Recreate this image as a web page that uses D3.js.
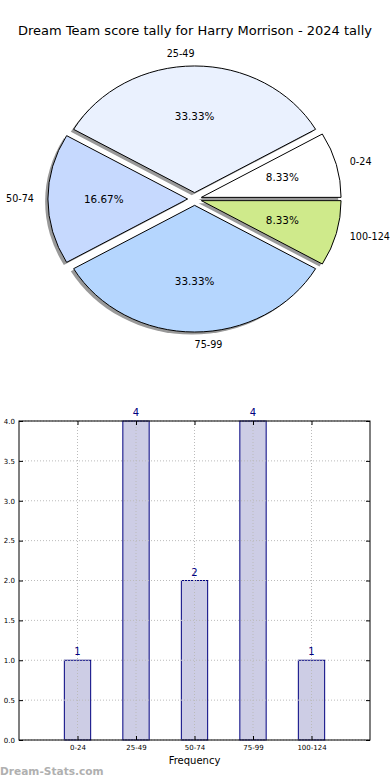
<!DOCTYPE html>
<html><head><meta charset="utf-8">
<script src="https://cdn.jsdelivr.net/npm/d3@7"></script>
<style>
body{margin:0;background:#fff;}
svg{display:block;font-family:"DejaVu Sans",sans-serif;}
</style></head>
<body>
<svg id="c" width="390" height="780"></svg>
<script>
const title = "Dream Team score tally for Harry Morrison - 2024 tally";
const categories = ["0-24","25-49","50-74","75-99","100-124"];
const counts = [1,4,2,4,1];
const pieColors = ["#ffffff","#eaf1fe","#c6d9fe","#b5d6fe","#cfea8b"];
const yTicks = [0,0.5,1,1.5,2,2.5,3,3.5,4];
const xLabel = "Frequency";
const watermark = "Dream-Stats.com";

const svg = d3.select("#c");
svg.append("text").attr("x",195).attr("y",35).attr("text-anchor","middle")
  .attr("font-size",13).attr("fill","#000").text(title);

// ---- Pie ----
const cx = 194.6, cy = 199, rx = 139.7, ry = 126.7, expl = 0.05;
const pie = d3.pie().sort(null).value(d=>d).startAngle(Math.PI/2).endAngle(Math.PI/2 - 2*Math.PI);
const arcs = pie(counts);
const arc = d3.arc().innerRadius(0).outerRadius(1);
const total = d3.sum(counts);
const gp = svg.append("g");
function mid(a){ // matplotlib-style angle (ccw from +x)
  const m = (a.startAngle + a.endAngle)/2; // d3 angle
  return Math.PI/2 - m;
}
// shadows
arcs.forEach((a,i)=>{
  const t = mid(a);
  const ox = cx + expl*rx*Math.cos(t) - 0.02*rx;
  const oy = cy - expl*ry*Math.sin(t) + 0.02*ry;
  gp.append("path").attr("d",arc(a))
    .attr("transform",`translate(${ox},${oy}) scale(${rx},${ry})`)
    .attr("fill","#000").attr("fill-opacity",0.4).attr("stroke","none");
});
arcs.forEach((a,i)=>{
  const t = mid(a);
  const ox = cx + expl*rx*Math.cos(t);
  const oy = cy - expl*ry*Math.sin(t);
  gp.append("path").attr("d",arc(a))
    .attr("transform",`translate(${ox},${oy}) scale(${rx},${ry})`)
    .attr("fill",pieColors[i]).attr("stroke","#000").attr("stroke-width",1)
    .attr("vector-effect","non-scaling-stroke");
  const c = Math.cos(t), s = Math.sin(t);
  const lx = ox + 1.1*rx*c, ly = oy - 1.1*ry*s;
  let anchor = c > 1e-6 ? "start" : (c < -1e-6 ? "end" : (s > 0 ? "end" : "start"));
  gp.append("text").attr("x",lx).attr("y",ly).attr("dy","0.35em")
    .attr("text-anchor",anchor).attr("font-size",9.6).attr("fill","#000").text(categories[i]);
  gp.append("text").attr("x",ox + 0.6*rx*c).attr("y",oy - 0.6*ry*s).attr("dy","0.35em")
    .attr("text-anchor","middle").attr("font-size",10.4).attr("fill","#000")
    .text((counts[i]/total*100).toFixed(2)+"%");
});

// ---- Bar chart ----
const L = 19, R = 370, T = 421, B = 740;
const x = d3.scaleLinear().domain([0,6]).range([L,R]);
const y = d3.scaleLinear().domain([0,4]).range([B,T]);
const gb = svg.append("g");
const bw = 0.45;
gb.selectAll("rect.bar").data(counts).join("rect")
  .attr("x",(d,i)=>x(i+1-bw/2)).attr("width",x(bw)-x(0))
  .attr("y",d=>y(d)).attr("height",d=>y(0)-y(d))
  .attr("fill","#cdcde5").attr("stroke","#000080").attr("stroke-width",1);
// grid
gb.selectAll("line.gy").data(yTicks).join("line")
  .attr("x1",L).attr("x2",R).attr("y1",d=>y(d)).attr("y2",d=>y(d))
  .attr("stroke","#bbb").attr("stroke-width",1).attr("stroke-dasharray","1,2");
gb.selectAll("line.gx").data(categories).join("line")
  .attr("x1",(d,i)=>x(i+1)).attr("x2",(d,i)=>x(i+1)).attr("y1",T).attr("y2",B)
  .attr("stroke","#bbb").attr("stroke-width",1).attr("stroke-dasharray","1,2");
// axes
const ya = gb.append("g").attr("transform",`translate(${L},0)`)
  .call(d3.axisLeft(y).tickValues(yTicks).tickFormat(d3.format(".1f")).tickSizeInner(-4).tickSizeOuter(0).tickPadding(4));
const ya2 = gb.append("g").attr("transform",`translate(${R},0)`)
  .call(d3.axisRight(y).tickValues(yTicks).tickFormat("").tickSizeInner(-4).tickSizeOuter(0));
const xa = gb.append("g").attr("transform",`translate(0,${B})`)
  .call(d3.axisBottom(x).tickValues([1,2,3,4,5]).tickFormat((d,i)=>categories[i]).tickSizeInner(-4).tickSizeOuter(0).tickPadding(5));
const xa2 = gb.append("g").attr("transform",`translate(0,${T})`)
  .call(d3.axisTop(x).tickValues([1,2,3,4,5]).tickFormat("").tickSizeInner(-4).tickSizeOuter(0));
[ya,ya2,xa,xa2].forEach(g=>{
  g.select(".domain").remove();
  g.selectAll("line").attr("stroke","#000");
  g.selectAll("text").attr("font-size",7).attr("fill","#000").attr("font-family","DejaVu Sans, sans-serif");
});
gb.append("rect").attr("x",L).attr("y",T).attr("width",R-L).attr("height",B-T)
  .attr("fill","none").attr("stroke","#000").attr("stroke-width",1);
// value labels
gb.selectAll("text.val").data(counts).join("text")
  .attr("x",(d,i)=>x(i+1)).attr("y",d=>y(d)-5).attr("text-anchor","middle")
  .attr("font-size",10).attr("fill","#000080").text(d=>d);
gb.append("text").attr("x",(L+R)/2).attr("y",764).attr("text-anchor","middle")
  .attr("font-size",10).attr("fill","#000").text(xLabel);
svg.append("text").attr("x",0).attr("y",775).attr("font-size",10.6).attr("font-weight","bold")
  .attr("fill","#b0b0b0").text(watermark);
</script>
</body></html>
